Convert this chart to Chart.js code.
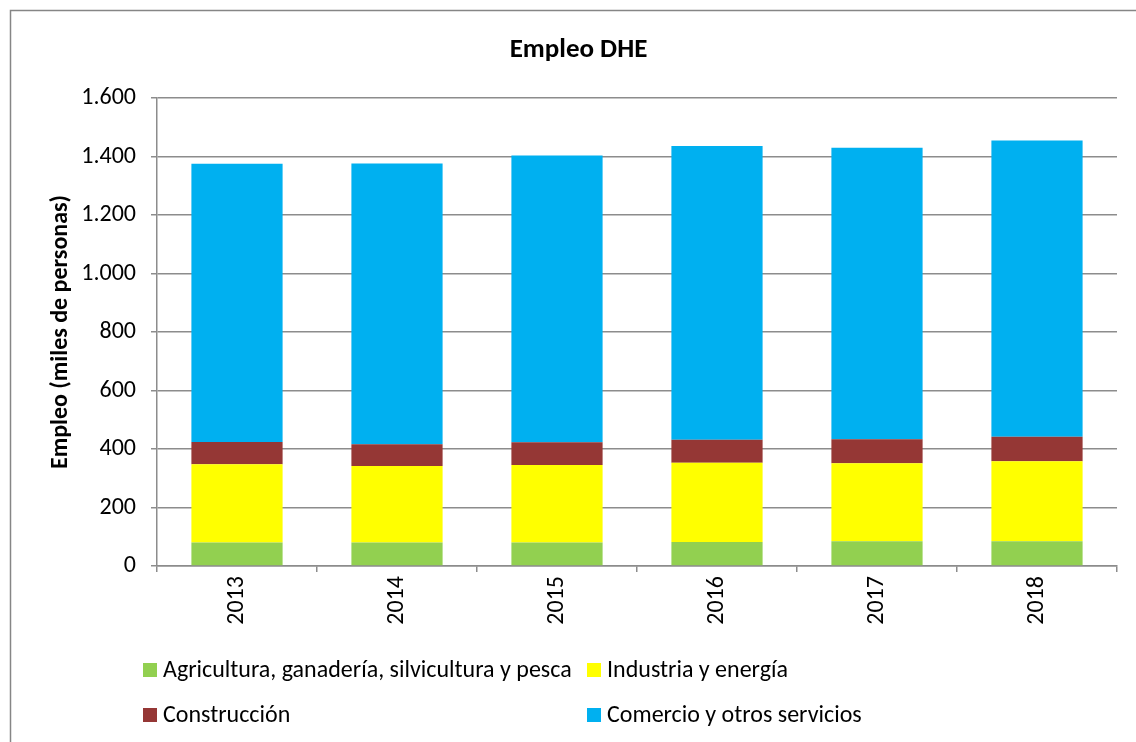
<!DOCTYPE html>
<html>
<head>
<meta charset="utf-8">
<script src="https://cdn.jsdelivr.net/npm/chart.js@4"></script>
<style>
  html, body { margin: 0; padding: 0; background: #fff; }
  #wrap { width: 1136px; height: 742px; position: relative; }
</style>
</head>
<body>
<div id="wrap"><canvas id="empleoChart" width="1136" height="742"></canvas></div>
<script>
// Empleo DHE - miles de personas por sector
const years = ['2013', '2014', '2015', '2016', '2017', '2018'];
const agricultura = [80, 80, 80, 82, 85, 85];
const industria = [268, 262, 265, 271, 266, 273];
const construccion = [76, 74, 78, 79, 82, 84];
const comercio = [951, 960, 980, 1004, 997, 1013];
const yTicks = [0, 200, 400, 600, 800, 1000, 1200, 1400, 1600];

const FONT = "Carlito, Calibri, Lato, sans-serif";
const GRID = '#8c8c8c';

const puntos = v => String(v).replace(/\B(?=(\d{3})+(?!\d))/g, '.');

// marco del gráfico + leyenda en dos columnas
const extras = {
    id: 'extras',
    beforeDraw(chart) {
        const c = chart.ctx;
        c.save();
        c.strokeStyle = '#868686';
        c.lineWidth = 1.5;
        c.beginPath();
        c.moveTo(10.5, chart.height + 5);
        c.lineTo(10.5, 10.5);
        c.lineTo(chart.width + 5, 10.5);
        c.stroke();
        c.restore();
    },
    afterDraw(chart) {
        const c = chart.ctx;
        const a = chart.chartArea;
        const cols = [a.left - 14, a.left + 430];
        const rows = [a.bottom + 104, a.bottom + 149];
        c.save();
        c.font = '24px ' + FONT;
        c.textBaseline = 'middle';
        chart.data.datasets.forEach((ds, i) => {
            const x = cols[i % 2], y = rows[Math.floor(i / 2)];
            c.fillStyle = ds.backgroundColor;
            c.fillRect(x, y - 7, 14, 14);
            c.fillStyle = '#000';
            c.fillText(ds.label, x + 20, y + 1);
        });
        c.restore();
    }
};

const ctx = document.getElementById('empleoChart').getContext('2d');
const empleoChart = new Chart(ctx, {
    type: 'bar',
    data: {
        labels: years,
        datasets: [
            { label: 'Agricultura, ganadería, silvicultura y pesca', data: agricultura, backgroundColor: '#92D050' },
            { label: 'Industria y energía', data: industria, backgroundColor: '#FFFF00' },
            { label: 'Construcción', data: construccion, backgroundColor: '#953735' },
            { label: 'Comercio y otros servicios', data: comercio, backgroundColor: '#00B0F0' }
        ]
    },
    options: {
        responsive: false,
        animation: false,
        layout: { padding: { left: 40, right: 19, top: 0, bottom: 100 } },
        datasets: { bar: { barPercentage: 0.57, categoryPercentage: 1, borderWidth: 0 } },
        plugins: {
            legend: { display: false },
            tooltip: { enabled: false },
            title: {
                display: true,
                text: 'Empleo DHE',
                color: '#000',
                font: { family: FONT, size: 27, weight: 'bold' },
                padding: { top: 34, bottom: 31.6 }
            }
        },
        scales: {
            x: {
                stacked: true,
                grid: { display: true, drawOnChartArea: false, drawTicks: true, tickLength: 6, color: GRID, lineWidth: 1.5 },
                border: { color: GRID, width: 1.5 },
                ticks: { color: '#000', font: { family: FONT, size: 24 }, minRotation: 90, maxRotation: 90, padding: 4 },
                afterFit(s) { s.height = 76; }
            },
            y: {
                stacked: true,
                min: 0,
                max: 1600,
                afterBuildTicks(s) { s.ticks = yTicks.map(v => ({ value: v })); },
                grid: { color: GRID, lineWidth: 1.5, tickLength: 6 },
                border: { color: GRID, width: 1.5 },
                ticks: { color: '#000', font: { family: FONT, size: 24 }, padding: 15, callback: v => puntos(v) },
                title: {
                    display: true,
                    text: 'Empleo (miles de personas)',
                    color: '#000',
                    font: { family: FONT, size: 24, weight: 'bold' },
                    padding: { top: 7, bottom: 0 }
                },
                afterFit(s) { s.width = 117; }
            }
        }
    },
    plugins: [extras]
});
</script>
</body>
</html>
